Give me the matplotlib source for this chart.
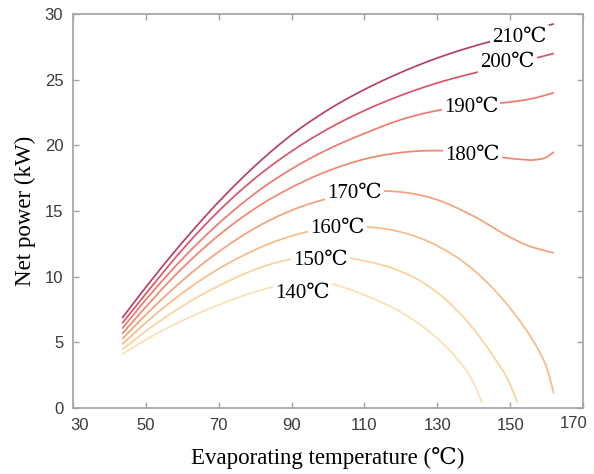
import numpy as np
import matplotlib
matplotlib.use("Agg")
import matplotlib.pyplot as plt
from matplotlib.transforms import ScaledTranslation

# Heat-source temperatures (curve labels)
labels = ["210℃", "200℃", "190℃", "180℃", "170℃", "160℃", "150℃", "140℃"]

# Evaporating temperature (°C) and net power (kW) for each curve
t_210 = [43.5, 50, 60, 70, 80, 90, 100, 110, 120, 130, 140, 150, 162]
p_210 = [6.85, 9.2, 12.6, 15.7, 18.45, 20.8, 22.7, 24.25, 25.55, 26.65, 27.55, 28.3, 29.25]

t_200 = [43.5, 50, 60, 70, 80, 90, 100, 110, 120, 130, 140, 150, 162]
p_200 = [6.45, 8.7, 12.05, 15.0, 17.5, 19.55, 21.25, 22.65, 23.8, 24.75, 25.5, 26.15, 27.0]

t_190 = [43.5, 50, 60, 70, 80, 90, 100, 110, 120, 130, 140, 150, 155, 162]
p_190 = [6.05, 8.25, 11.35, 14.05, 16.35, 18.2, 19.7, 20.9, 21.95, 22.65, 23.05, 23.3, 23.5, 24.0]

t_180 = [43.5, 50, 60, 70, 80, 90, 100, 110, 120, 130, 140, 146, 152, 157, 160, 162]
p_180 = [5.65, 7.7, 10.65, 13.15, 15.2, 16.8, 18.05, 18.95, 19.45, 19.6, 19.4, 19.15, 18.95, 18.9, 19.1, 19.5]

t_170 = [43.5, 50, 60, 70, 80, 90, 100, 110, 120, 130, 140, 150, 155, 160, 162]
p_170 = [5.25, 7.1, 9.7, 11.9, 13.7, 15.05, 15.95, 16.45, 16.45, 15.85, 14.6, 13.0, 12.35, 11.95, 11.8]

t_160 = [43.5, 50, 60, 70, 80, 90, 100, 110, 120, 130, 140, 150, 155, 158, 160, 162]
p_160 = [4.85, 6.5, 8.75, 10.6, 12.05, 13.1, 13.7, 13.8, 13.4, 12.35, 10.5, 7.6, 5.7, 4.3, 3.1, 1.1]

t_150 = [43.5, 50, 60, 70, 80, 90, 100, 110, 120, 130, 140, 145, 150, 152]
p_150 = [4.45, 5.85, 7.75, 9.3, 10.55, 11.35, 11.6, 11.2, 10.4, 8.8, 6.0, 4.1, 1.8, 0.4]

t_140 = [43.5, 50, 60, 70, 80, 90, 95, 100, 110, 120, 130, 135, 140, 142.3]
p_140 = [4.1, 5.2, 6.65, 7.85, 8.85, 9.5, 9.6, 9.5, 8.6, 7.3, 5.3, 3.9, 1.9, 0.4]

# label anchor positions (data coords)
label_x = [152.5, 149.2, 139.3, 139.6, 107.3, 102.6, 97.9, 93.0]
label_y = [28.25, 26.35, 22.85, 19.27, 16.37, 13.7, 11.27, 8.76]

colors = ["#b5406a", "#d9546a", "#f07a6c", "#f2876f", "#f5a17a", "#f8bb87", "#fad29a", "#fbe0b4"]

xs = [t_210, t_200, t_190, t_180, t_170, t_160, t_150, t_140]
ys = [p_210, p_200, p_190, p_180, p_170, p_160, p_150, p_140]


def smooth(x, y, n=16):
    """Cubic Hermite curve through the read points (drawing only)."""
    x = np.asarray(x, float)
    y = np.asarray(y, float)
    h = np.diff(x)
    s = np.diff(y) / h
    d = np.empty_like(y)
    d[1:-1] = (h[:-1] * s[1:] + h[1:] * s[:-1]) / (h[:-1] + h[1:])
    d[0] = s[0] + (s[0] - d[1]) * 0.5
    d[-1] = s[-1] + (s[-1] - d[-2]) * 0.5
    X, Y = [], []
    for i in range(len(x) - 1):
        u = np.linspace(0, 1, n, endpoint=False)
        h00 = 2 * u ** 3 - 3 * u ** 2 + 1
        h10 = u ** 3 - 2 * u ** 2 + u
        h01 = -2 * u ** 3 + 3 * u ** 2
        h11 = u ** 3 - u ** 2
        X.extend(x[i] + u * h[i])
        Y.extend(h00 * y[i] + h10 * h[i] * d[i] + h01 * y[i + 1] + h11 * h[i] * d[i + 1])
    X.append(x[-1])
    Y.append(y[-1])
    return np.array(X), np.array(Y)


fig = plt.figure(figsize=(5.94, 4.74), dpi=100)
ax = fig.add_axes([73 / 594, 1 - 408 / 474, (583 - 73) / 594, (408 - 14) / 474])

for x, y, c in zip(xs, ys, colors):
    sx, sy = smooth(x, y)
    ax.plot(sx, sy, color=c, lw=1.25, solid_capstyle="butt")

for lab, lx, ly in zip(labels, label_x, label_y):
    ax.text(lx, ly, lab, ha="center", va="center", fontsize=15,
            family=["Liberation Serif", "DejaVu Serif"], color="black",
            bbox=dict(facecolor="white", edgecolor="none", pad=1.5), zorder=5)

ax.set_xlim(30, 170)
ax.set_ylim(0, 30)
ax.set_xticks([30, 50, 70, 90, 110, 130, 150, 170])
ax.set_yticks([0, 5, 10, 15, 20, 25, 30])
ax.tick_params(direction="in", top=True, right=True, length=4, width=1,
               color="#a0a0a0", labelsize=12, labelcolor="#3a3a3a", pad=7)
for lab in ax.get_xticklabels() + ax.get_yticklabels():
    lab.set_family(["Liberation Sans", "DejaVu Sans"])
xt = ax.get_xticklabels()
xt[0].set_transform(xt[0].get_transform() + ScaledTranslation(7 / 100, 0, fig.dpi_scale_trans))
xt[-1].set_transform(xt[-1].get_transform() + ScaledTranslation(-9 / 100, 2 / 100, fig.dpi_scale_trans))
for sp in ax.spines.values():
    sp.set_color("#a8a8a8")
    sp.set_linewidth(1.3)

ax.set_xlabel("Evaporating temperature (℃)", fontsize=16.5,
              family=["Liberation Serif", "DejaVu Serif"], labelpad=10)
ax.set_ylabel("Net power (kW)", fontsize=16.5,
              family=["Liberation Serif", "DejaVu Serif"], labelpad=6)

fig.savefig("out.png", dpi=100)
